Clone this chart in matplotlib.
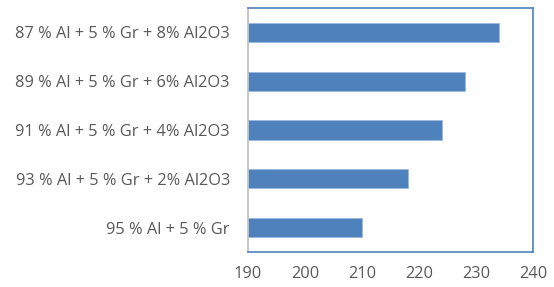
import matplotlib
matplotlib.use("Agg")
import matplotlib.pyplot as plt

categories = ["95 % Al + 5 % Gr",
              "93 % Al + 5 % Gr + 2% Al2O3",
              "91 % Al + 5 % Gr + 4% Al2O3",
              "89 % Al + 5 % Gr + 6% Al2O3",
              "87 % Al + 5 % Gr + 8% Al2O3"]
values = [210, 218, 224, 228, 234]
xticks = [190, 200, 210, 220, 230, 240]

plt.rcParams['font.family'] = ['Open Sans', 'DejaVu Sans']
fig = plt.figure(figsize=(5.54, 2.87), dpi=100)
ax = fig.add_axes([248/554, 1-252/287, (533-248)/554, (252-8)/287])
base = 190
ax.barh(range(len(categories)), [v - base for v in values], left=base, height=0.39,
        color='#4F81BD', edgecolor='#9DB9DF', linewidth=0.6)
ax.set_xlim(190, 240)
ax.set_ylim(-0.5, len(categories) - 0.5)
ax.set_yticks(range(len(categories)))
ax.set_yticklabels(categories)
ax.set_xticks(xticks)
ax.tick_params(length=0, labelsize=11.8, colors='#595959')
ax.tick_params(axis='y', pad=13)
ax.tick_params(axis='x', pad=10)
for s in ['top', 'right', 'bottom']:
    ax.spines[s].set_color('#4F81BD')
    ax.spines[s].set_linewidth(1.2)
ax.spines['left'].set_color('#BFBFBF')
ax.spines['left'].set_linewidth(1.2)
fig.savefig("out.png", dpi=100)
